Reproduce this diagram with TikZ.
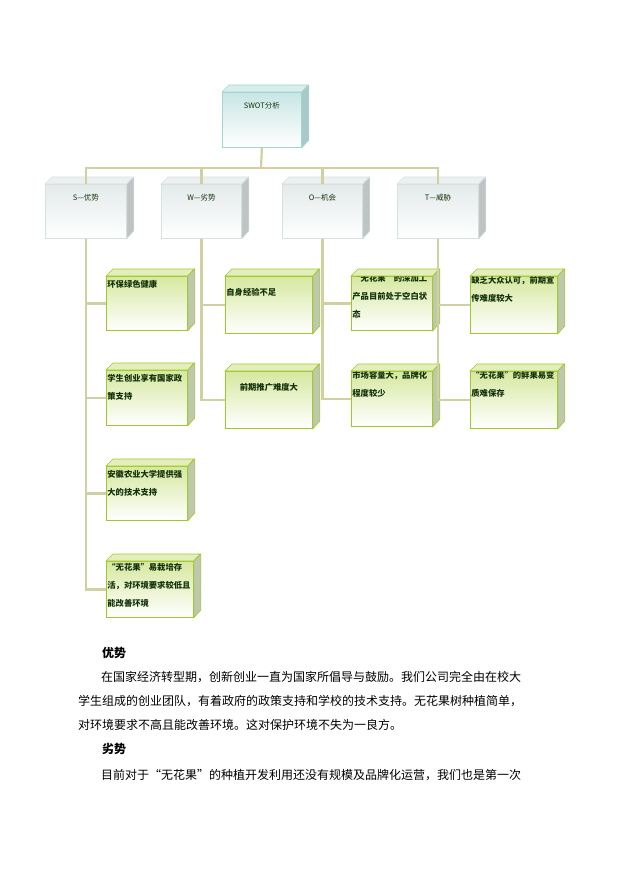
\documentclass[tikz,border=0pt]{standalone}
\usepackage{fontspec}
\newfontfamily\cjk{Noto Sans CJK SC}
\XeTeXlinebreaklocale "zh"
\XeTeXlinebreakskip=0pt plus 1pt
\begin{document}
\begin{tikzpicture}[x=1pt,y=-1pt,
  conn/.style={draw=connc,line width=2.2pt}]
\definecolor{connc}{RGB}{208,208,160}
\definecolor{txtc}{RGB}{20,50,10}
\definecolor{gfront}{RGB}{214,232,160}
\definecolor{gedge}{RGB}{160,200,40}
\definecolor{gside}{RGB}{190,200,170}
\definecolor{bfront}{RGB}{200,230,228}
\definecolor{bedge}{RGB}{160,215,210}
\definecolor{bside}{RGB}{170,200,198}
\definecolor{wfront}{RGB}{228,234,234}
\definecolor{wedge}{RGB}{215,225,225}
\definecolor{wside}{RGB}{190,196,196}
\useasboundingbox (0,0) rectangle (621,877);
\newcommand\bxt{\cjk\bfseries\fontsize{8.3}{18}\selectfont\color{txtc}\raggedright}
\newcommand\tdbox[9]{%
  \node[anchor=north west,minimum width=#4pt,minimum height=#5pt,inner sep=0pt,
    draw=#7,line width=0.8pt,top color=#6,bottom color=white] (#1) at (#2,#3)
    {\parbox[t][#5pt][t]{\dimexpr#4pt-2pt\relax}{#9}};
  \fill[#6!70!white,draw=#7,line width=0.6pt] (#1.north west) -- ++(7,-7) -- ++(#4,0) -- (#1.north east) -- cycle;
  \fill[#8,draw=#7,line width=0.6pt] (#1.north east) -- ++(7,-7) -- ++(0,#5) -- (#1.south east) -- cycle;
}
\newcommand\hdt[1]{\vspace{10pt}\centering\cjk\fontsize{7.5}{9}\selectfont\color{txtc}#1}
\tdbox{swot}{222}{92}{79}{55}{bfront}{bedge}{bside}{\hdt{SWOT分析}}
\tdbox{s}{45}{184}{81}{54}{wfront}{wedge}{wside}{\hdt{S—优势}}
\tdbox{w}{161}{184}{80}{54}{wfront}{wedge}{wside}{\hdt{W—劣势}}
\tdbox{o}{282}{184}{80}{54}{wfront}{wedge}{wside}{\hdt{O—机会}}
\tdbox{t}{397}{184}{81}{54}{wfront}{wedge}{wside}{\hdt{T—威胁}}
\tdbox{s1}{106}{276}{81}{54}{gfront}{gedge}{gside}{\vspace{4pt}\bxt 环保绿色健康}
\tdbox{s2}{106}{370}{81}{55}{gfront}{gedge}{gside}{\vspace{4pt}\bxt 学生创业享有国家政策支持}
\tdbox{s3}{106}{466}{81}{54}{gfront}{gedge}{gside}{\vspace{4pt}\bxt 安徽农业大学提供强大的技术支持}
\tdbox{s4}{106}{561}{87}{56}{gfront}{gedge}{gside}{\vspace{2pt}\bxt “无花果”易栽培存活，对环境要求较低且能改善环境}
\tdbox{w1}{225}{276}{87}{57}{gfront}{gedge}{gside}{\vspace{12pt}\bxt 自身经验不足}
\tdbox{w2}{225}{371}{87}{57}{gfront}{gedge}{gside}{\vspace{12pt}\bxt\centering 前期推广难度大}
\tdbox{o1}{351}{276}{81}{54}{gfront}{gedge}{gside}{\vspace{-2pt}\bxt “无花果”的深加工产品目前处于空白状态}
\tdbox{o2}{351}{371}{81}{55}{gfront}{gedge}{gside}{\vspace{0pt}\bxt 市场容量大，品牌化程度较少}
\tdbox{t1}{470}{276}{87}{57}{gfront}{gedge}{gside}{\vspace{0pt}\bxt 缺乏大众认可，前期宣传难度较大}
\tdbox{t2}{470}{371}{87}{57}{gfront}{gedge}{gside}{\vspace{0pt}\bxt “无花果”的鲜果易变质难保存}
\coordinate (hub) at (261,168);
\draw[conn] (swot.south) -- (hub);
\draw[conn] (s.north) |- (hub) -| (t.north);
\draw[conn] (w.north) |- (hub) -| (o.north);
\foreach \p/\c in {s/s1,s/s2,s/s3,s/s4,w/w1,w/w2,o/o1,o/o2,t/t1,t/t2}{
  \draw[conn] (\p.south) |- (\c.west);
}
\begin{scope}[every node/.style={anchor=west,inner sep=0pt,font=\cjk\fontsize{12}{14}\selectfont}]
\node (h1) at (102,653) {\bfseries 优势};
\node (l1) at (101,677) {在国家经济转型期，创新创业一直为国家所倡导与鼓励。我们公司完全由在校大};
\node (l2) at (78,701) {学生组成的创业团队，有着政府的政策支持和学校的技术支持。无花果树种植简单，};
\node (l3) at (78,725) {对环境要求不高且能改善环境。这对保护环境不失为一良方。};
\node (h2) at (102,749) {\bfseries 劣势};
\node (l4) at (101,775) {目前对于“无花果”的种植开发利用还没有规模及品牌化运营，我们也是第一次};
\end{scope}
\end{tikzpicture}
\end{document}
